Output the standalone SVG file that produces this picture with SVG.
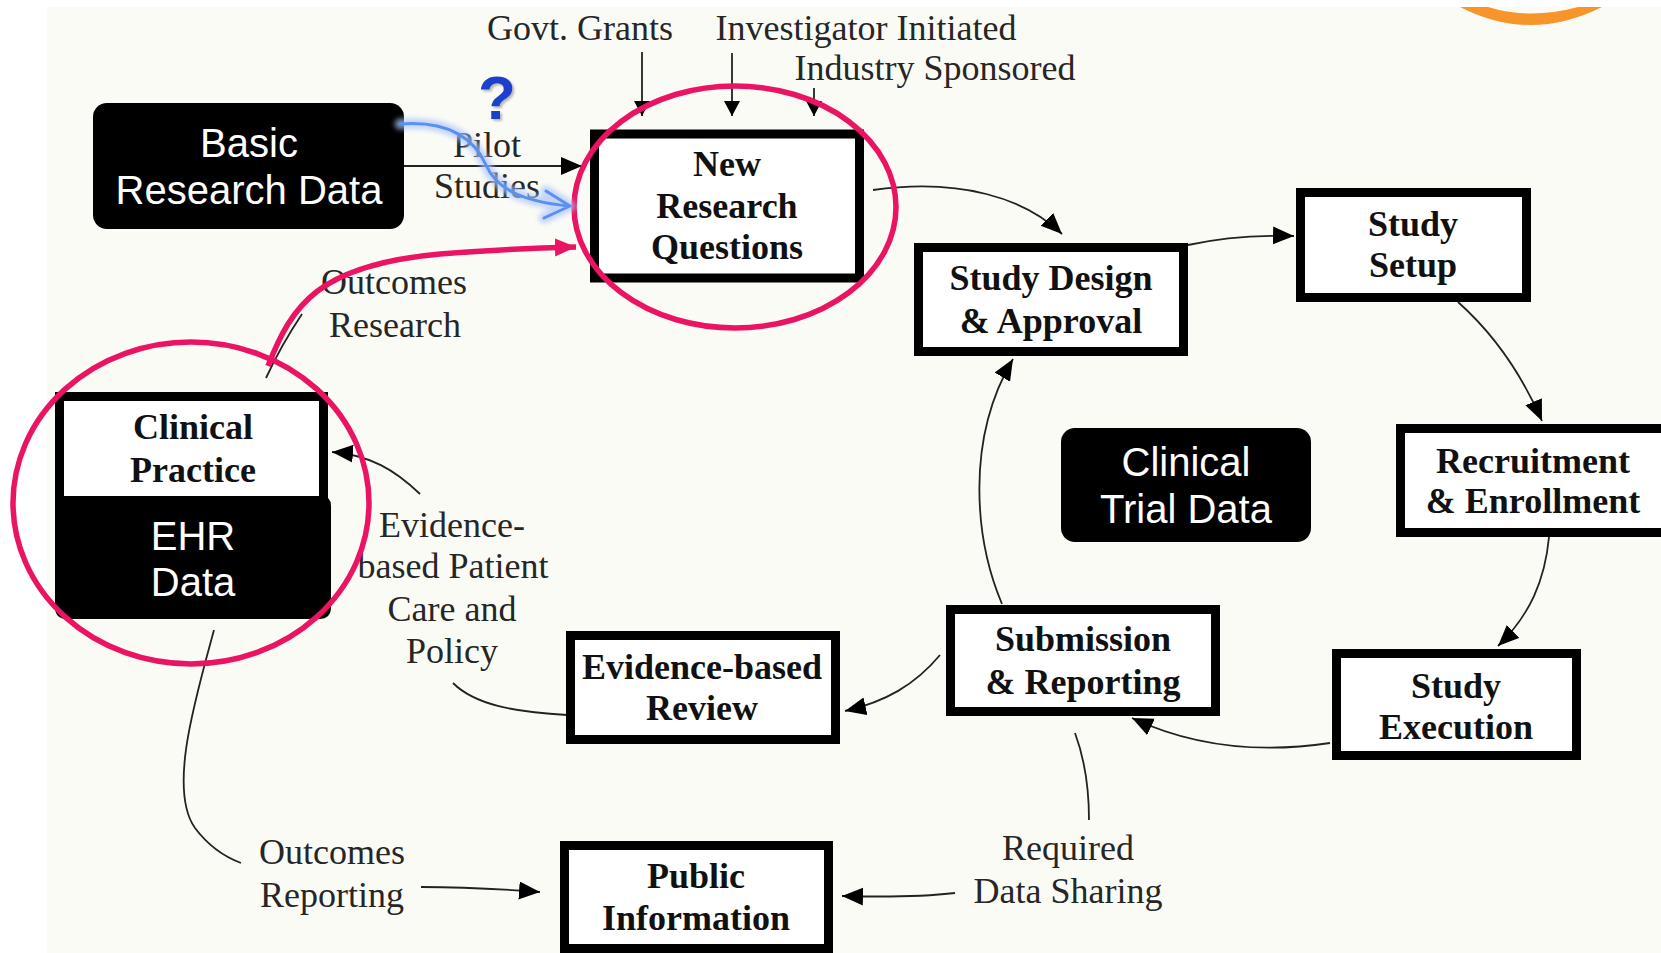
<svg xmlns="http://www.w3.org/2000/svg" width="1661" height="953" viewBox="0 0 1661 953">
<defs>
<style>
.lbl{font-family:"Liberation Serif","Times New Roman",serif;font-size:36px;fill:#262626;text-anchor:middle}
.bt{font-family:"Liberation Serif","Times New Roman",serif;font-size:36px;font-weight:bold;fill:#111;text-anchor:middle}
.wt{font-family:"Liberation Sans",Arial,sans-serif;font-size:40px;fill:#fff;text-anchor:middle}
.box{fill:#fff;stroke:#000;stroke-width:9}
.dark{fill:#000}
.con{fill:none;stroke:#222;stroke-width:1.8}
.pink{fill:none;stroke:#ea1462;stroke-width:5.5}
</style>
<marker id="ah" markerUnits="userSpaceOnUse" markerWidth="22" markerHeight="20" refX="21" refY="9" orient="auto">
<path d="M0,0 L21,9 L0,18 Z" fill="#000"/>
</marker>
<marker id="ahs" markerUnits="userSpaceOnUse" markerWidth="16" markerHeight="18" refX="15" refY="8" orient="auto">
<path d="M0,0 L15,8 L0,16 Z" fill="#000"/>
</marker>
<marker id="ahp" markerUnits="userSpaceOnUse" markerWidth="22" markerHeight="20" refX="21" refY="9" orient="auto">
<path d="M0,0 L21,9 L0,18 Z" fill="#ea1462"/>
</marker>
<filter id="glow" x="-20%" y="-20%" width="140%" height="140%"><feGaussianBlur stdDeviation="2.5"/></filter>
<filter id="shadow" x="-30%" y="-30%" width="160%" height="160%">
<feDropShadow dx="2" dy="2" stdDeviation="0.8" flood-color="#8a8a8a" flood-opacity="0.6"/>
</filter>
</defs>
<rect x="0" y="0" width="1661" height="953" fill="#ffffff"/>
<rect x="47" y="7" width="1614" height="946" fill="#fbfbf6"/>
<path d="M1460 7 Q1530 43 1602 7 L1578 7 Q1530 20 1488 7 Z" fill="#f7952a"/>

<g id="connectors">
<path class="con" d="M642 52 V116" marker-end="url(#ahs)"/>
<path class="con" d="M732 53 V116" marker-end="url(#ahs)"/>
<path class="con" d="M814 88 V116" marker-end="url(#ahs)"/>
<path class="con" d="M404 166 H582" marker-end="url(#ah)"/>
<path class="con" d="M266 378 C278 352 290 332 302 314"/>
<path class="con" d="M873 190 C960 178 1025 198 1062 234" marker-end="url(#ah)"/>
<path class="con" d="M1188 245 C1220 238 1255 235 1294 236" marker-end="url(#ah)"/>
<path class="con" d="M1458 302 C1495 335 1522 375 1542 421" marker-end="url(#ah)"/>
<path class="con" d="M1549 537 C1545 580 1530 615 1498 646" marker-end="url(#ah)"/>
<path class="con" d="M1330 743 C1270 752 1200 750 1132 718" marker-end="url(#ah)"/>
<path class="con" d="M1002 604 C975 540 965 440 1013 359" marker-end="url(#ah)"/>
<path class="con" d="M940 655 C915 685 885 702 845 711" marker-end="url(#ah)"/>
<path class="con" d="M567 715 C515 712 475 705 453 683"/>
<path class="con" d="M420 494 C395 470 370 455 332 452" marker-end="url(#ah)"/>
<path class="con" d="M214 630 C195 700 168 790 195 828 C210 848 225 857 241 863"/>
<path class="con" d="M421 887 C470 887 500 889 540 892" marker-end="url(#ah)"/>
<path class="con" d="M955 893 C920 897 880 897 842 896" marker-end="url(#ah)"/>
<path class="con" d="M1075 733 C1085 760 1089 790 1089 820"/>
</g>

<g id="labels">
<text class="lbl" x="580" y="40">Govt. Grants</text>
<text class="lbl" x="866" y="40">Investigator Initiated</text>
<text class="lbl" x="935" y="80">Industry Sponsored</text>
<text class="lbl" x="487" y="157">Pilot</text>
<text class="lbl" x="487" y="198">Studies</text>
<text class="lbl" x="394" y="294">Outcomes</text>
<text class="lbl" x="395" y="337">Research</text>
<text class="lbl" x="452" y="537">Evidence-</text>
<text class="lbl" x="453" y="578">based Patient</text>
<text class="lbl" x="452" y="621">Care and</text>
<text class="lbl" x="452" y="663">Policy</text>
<text class="lbl" x="332" y="864">Outcomes</text>
<text class="lbl" x="332" y="907">Reporting</text>
<text class="lbl" x="1068" y="860">Required</text>
<text class="lbl" x="1068" y="903">Data Sharing</text>
</g>

<g id="basic-research-data">
<rect class="dark" x="93" y="103" width="311" height="126" rx="14"/>
<text class="wt" x="249" y="157">Basic</text>
<text class="wt" x="249" y="204">Research Data</text>
</g>

<g id="new-research-questions">
<rect class="box" x="594.5" y="134" width="265" height="144"/>
<text class="bt" x="727" y="176">New</text>
<text class="bt" x="727" y="218">Research</text>
<text class="bt" x="727" y="259">Questions</text>
</g>

<g id="study-design">
<rect class="box" x="918.5" y="247.5" width="265" height="104"/>
<text class="bt" x="1051" y="290">Study Design</text>
<text class="bt" x="1051" y="333">&amp; Approval</text>
</g>

<g id="study-setup">
<rect class="box" x="1300.5" y="192.5" width="226" height="105"/>
<text class="bt" x="1413" y="236">Study</text>
<text class="bt" x="1413" y="277">Setup</text>
</g>

<g id="recruitment">
<rect class="box" x="1400.5" y="428.5" width="270" height="104"/>
<text class="bt" x="1533" y="473">Recruitment</text>
<text class="bt" x="1533" y="513">&amp; Enrollment</text>
</g>

<g id="clinical-trial-data">
<rect class="dark" x="1061" y="428" width="250" height="114" rx="14"/>
<text class="wt" x="1186" y="476">Clinical</text>
<text class="wt" x="1186" y="523">Trial Data</text>
</g>

<g id="study-execution">
<rect class="box" x="1336.5" y="653.5" width="240" height="102"/>
<text class="bt" x="1456" y="698">Study</text>
<text class="bt" x="1456" y="739">Execution</text>
</g>

<g id="submission-reporting">
<rect class="box" x="950.5" y="609.5" width="265" height="102"/>
<text class="bt" x="1083" y="651">Submission</text>
<text class="bt" x="1083" y="694">&amp; Reporting</text>
</g>

<g id="evidence-based-review">
<rect class="box" x="570.5" y="635.5" width="265" height="104"/>
<text class="bt" x="702" y="679">Evidence-based</text>
<text class="bt" x="702" y="720">Review</text>
</g>

<g id="public-information">
<rect class="box" x="564.5" y="845.5" width="264" height="103"/>
<text class="bt" x="696" y="888">Public</text>
<text class="bt" x="696" y="930">Information</text>
</g>

<g id="clinical-practice">
<rect class="box" x="59.5" y="396.5" width="264" height="110"/>
<text class="bt" x="193" y="439">Clinical</text>
<text class="bt" x="193" y="482">Practice</text>
</g>

<g id="ehr-data">
<path class="dark" d="M55 496 H321 Q331 496 331 506 V607 Q331 619 319 619 H67 Q55 619 55 607 Z"/>
<text class="wt" x="193" y="550">EHR</text>
<text class="wt" x="193" y="596">Data</text>
</g>

<g id="annotations">
<ellipse class="pink" cx="735" cy="207" rx="161" ry="121"/>
<ellipse class="pink" cx="191" cy="503" rx="178" ry="161"/>
<path class="pink" d="M268 366 C292 305 318 265 440 254 C490 250 530 248 576 247" marker-end="url(#ahp)"/>
<g fill="none" stroke-linecap="round" stroke-linejoin="round">
<path d="M400 124 C450 120 475 140 486 165 C496 188 520 201 568 206 M546 191 L570 206 L544 218" stroke="#a9c5fa" stroke-width="11" opacity="0.7" filter="url(#glow)"/>
<path d="M400 124 C450 120 475 140 486 165 C496 188 520 201 568 206 M546 191 L570 206 L544 218" stroke="#5b8ff0" stroke-width="3"/>
</g>
<text x="497" y="119" font-family="Liberation Sans, Arial, sans-serif" font-size="62" font-weight="bold" fill="#1b3fcc" text-anchor="middle" filter="url(#shadow)">?</text>
</g>
</svg>
